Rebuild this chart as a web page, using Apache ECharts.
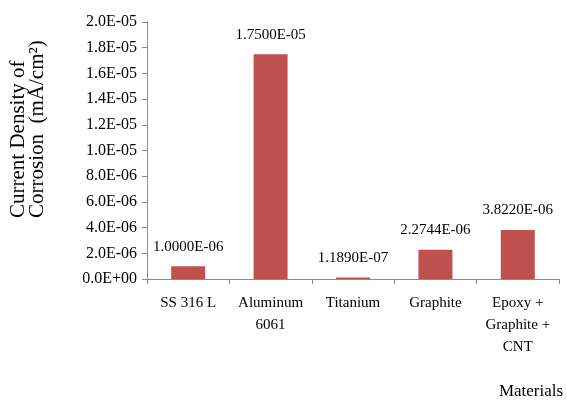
<!DOCTYPE html>
<html>
<head>
<meta charset="utf-8">
<script src="https://cdn.jsdelivr.net/npm/echarts@6/dist/echarts.min.js"></script>
<style>
  html, body { margin: 0; padding: 0; background: #ffffff; }
  #chart { width: 567px; height: 401px; }
</style>
</head>
<body>
<div id="chart"></div>
<script>
// Corrosion current density by material
const materials = ['SS 316 L', 'Aluminum\n6061', 'Titanium', 'Graphite', 'Epoxy +\nGraphite +\nCNT'];
const currentDensity = [1.0e-6, 1.75e-5, 1.189e-7, 2.2744e-6, 3.822e-6];
const yMin = 0;
const yMax = 2.0e-5;
const yStep = 2.0e-6;

const SERIF = 'Liberation Serif';

// Scientific notation with a two-digit exponent, e.g. 1.7500E-05
function sci(v, digits) {
  if (v === 0) return (0).toFixed(digits) + 'E+00';
  const s = v.toExponential(digits);
  const [mant, exp] = s.split('e');
  const sign = exp[0] === '-' ? '-' : '+';
  const mag = exp.replace(/^[+-]/, '').padStart(2, '0');
  return mant + 'E' + sign + mag;
}

const chart = echarts.init(document.getElementById('chart'), null, { renderer: 'canvas' });

chart.setOption({
  animation: false,
  backgroundColor: '#ffffff',
  grid: { left: 147, right: 8, top: 22, bottom: 122, containLabel: false },
  xAxis: {
    type: 'category',
    data: materials,
    axisLine: { lineStyle: { color: '#8c8c8c', width: 1 } },
    axisTick: { show: true, length: 5, lineStyle: { color: '#8c8c8c' } },
    axisLabel: {
      color: '#000000',
      fontFamily: SERIF,
      fontSize: 15,
      lineHeight: 22,
      margin: 13,
      interval: 0
    }
  },
  yAxis: {
    type: 'value',
    min: yMin,
    max: yMax,
    interval: yStep,
    splitLine: { show: false },
    axisLine: { show: true, lineStyle: { color: '#8c8c8c', width: 1 } },
    axisTick: { show: true, length: 5, lineStyle: { color: '#8c8c8c' } },
    axisLabel: {
      color: '#000000',
      fontFamily: SERIF,
      fontSize: 16,
      margin: 10,
      formatter: v => sci(v, 1)
    }
  },
  series: [{
    type: 'bar',
    data: currentDensity,
    barWidth: 34,
    itemStyle: { color: '#C0504D' },
    label: {
      show: true,
      position: 'top',
      distance: 12,
      color: '#000000',
      fontFamily: SERIF,
      fontSize: 15,
      formatter: p => sci(p.value, 4)
    }
  }],
  graphic: [
    {
      type: 'text',
      x: 28,
      y: 218,
      rotation: Math.PI / 2,
      style: {
        text: 'Current Density of\nCorrosion  (mA/cm²)',
        font: '21px "Liberation Serif"',
        fill: '#000000',
        textAlign: 'left',
        textVerticalAlign: 'middle',
        lineHeight: 19
      }
    },
    {
      type: 'text',
      x: 531,
      y: 392,
      style: {
        text: 'Materials',
        font: '17px "Liberation Serif"',
        fill: '#000000',
        textAlign: 'center',
        textVerticalAlign: 'middle'
      }
    }
  ]
});
</script>
</body>
</html>
